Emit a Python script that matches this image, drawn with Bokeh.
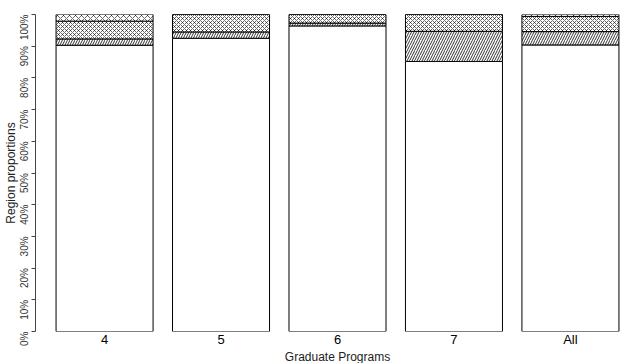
from bokeh.plotting import figure
from bokeh.models import FactorRange, Range1d, NumeralTickFormatter, FixedTicker
from bokeh.embed import file_html
from bokeh.resources import INLINE

programs = ["4", "5", "6", "7", "All"]
region1 = [0.903, 0.925, 0.964, 0.852, 0.904]
region2 = [0.020, 0.020, 0.009, 0.095, 0.042]
region3 = [0.056, 0.055, 0.027, 0.053, 0.048]
region4 = [0.021, 0.000, 0.000, 0.000, 0.006]
y_ticks = [0.0, 0.1, 0.2, 0.3, 0.4, 0.5, 0.6, 0.7, 0.8, 0.9, 1.0]

data = dict(program=programs, r1=region1, r2=region2, r3=region3, r4=region4)

p = figure(frame_width=604, frame_height=317, output_backend="svg", toolbar_location=None,
           x_range=FactorRange(*programs, range_padding=0.093, range_padding_units="absolute"),
           y_range=Range1d(0, 1),
           min_border_left=34, min_border_right=1, min_border_top=14, min_border_bottom=32)

p.vbar_stack(["r1", "r2", "r3", "r4"], x="program", width=0.833, source=data,
             fill_color="white", line_color="black", line_width=1,
             hatch_pattern=[" ", "/", "x", "x"], hatch_color="black",
             hatch_scale=[4, 5, 4, 6], hatch_weight=[0.6, 0.8, 0.6, 0.6])

p.outline_line_color = None
p.background_fill_color = "white"
p.border_fill_color = "white"
p.grid.visible = False

xa = p.xaxis[0]
xa.axis_line_color = None
xa.major_tick_line_color = None
xa.minor_tick_line_color = None
xa.major_tick_out = 0
xa.major_label_standoff = 0
xa.major_label_text_font = "Liberation Sans"
xa.major_label_text_font_size = "13px"
xa.major_label_text_color = "black"
xa.axis_label = "Graduate Programs"
xa.axis_label_text_font = "Liberation Sans"
xa.axis_label_text_font_style = "normal"
xa.axis_label_text_font_size = "12px"
xa.axis_label_text_color = "#222222"
xa.axis_label_standoff = 0

ya = p.yaxis[0]
ya.ticker = FixedTicker(ticks=y_ticks)
ya.formatter = NumeralTickFormatter(format="0%")
ya.axis_line_color = "#444444"
ya.major_tick_line_color = "#444444"
ya.minor_tick_line_color = None
ya.major_tick_out = 4
ya.major_tick_in = 0
ya.major_label_standoff = 7
ya.major_label_orientation = 1.5708
ya.major_label_text_font = "Liberation Sans"
ya.major_label_text_font_size = "10px"
ya.major_label_text_color = "#333333"
ya.axis_label = "Region proportions"
ya.axis_label_text_font = "Liberation Sans"
ya.axis_label_text_font_style = "normal"
ya.axis_label_text_font_size = "12px"
ya.axis_label_text_color = "#222222"
ya.axis_label_standoff = -7

open("out.html", "w").write(file_html(p, INLINE))
